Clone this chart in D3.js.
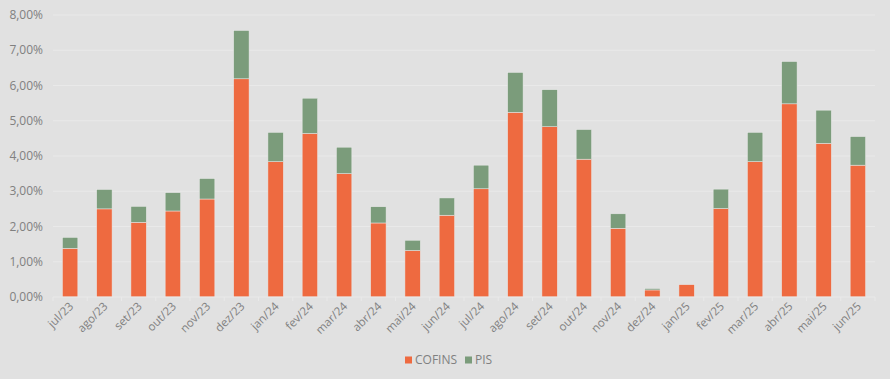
<!DOCTYPE html>
<html>
<head>
<meta charset="utf-8">
<script src="https://cdn.jsdelivr.net/npm/d3@7"></script>
<style>
  body { margin: 0; background: #e1e1e1; }
  svg { display: block; }
  text { font-family: "Open Sans", sans-serif; fill: #808080; }
</style>
</head>
<body>
<div id="chart"></div>
<script>
// months
var months = ["jul/23","ago/23","set/23","out/23","nov/23","dez/23","jan/24","fev/24","mar/24","abr/24","mai/24","jun/24",
              "jul/24","ago/24","set/24","out/24","nov/24","dez/24","jan/25","fev/25","mar/25","abr/25","mai/25","jun/25"];
// values in %
var cofins = [1.38, 2.50, 2.12, 2.44, 2.78, 6.19, 3.84, 4.64, 3.50, 2.10, 1.32, 2.32,
              3.07, 5.24, 4.83, 3.91, 1.95, 0.20, 0.35, 2.51, 3.84, 5.48, 4.36, 3.74];
var pis    = [0.31, 0.55, 0.45, 0.52, 0.58, 1.37, 0.83, 1.00, 0.75, 0.46, 0.29, 0.49,
              0.67, 1.13, 1.05, 0.84, 0.41, 0.04, 0.00, 0.55, 0.83, 1.20, 0.94, 0.81];
var yTicks = [0, 1, 2, 3, 4, 5, 6, 7, 8];
var seriesNames = ["COFINS", "PIS"];
var colors = ["#ee6a40", "#7b9c7b"];

var W = 890, H = 379;
var margin = {top: 15, right: 15, bottom: 82, left: 53};

var svg = d3.select("#chart").append("svg")
    .attr("width", W).attr("height", H);

svg.append("rect").attr("width", W).attr("height", H).attr("fill", "#e1e1e1");

var x = d3.scaleBand().domain(months)
    .range([margin.left, W - margin.right])
    .paddingInner(0.55).paddingOuter(0.275);

var y = d3.scaleLinear().domain([0, 8]).range([H - margin.bottom, margin.top]);

// gridlines
svg.append("g").selectAll("line")
  .data(yTicks.slice(1))
  .enter().append("line")
    .attr("x1", margin.left).attr("x2", W - margin.right)
    .attr("y1", function(d) { return y(d); })
    .attr("y2", function(d) { return y(d); })
    .attr("stroke", "#e9e9e9").attr("stroke-width", 1);

// y labels
svg.append("g").selectAll("text")
  .data(yTicks)
  .enter().append("text")
    .attr("x", margin.left - 10)
    .attr("y", function(d) { return y(d); })
    .attr("dy", "0.35em")
    .attr("text-anchor", "end")
    .attr("font-size", "12px")
    .text(function(d) { return d3.format(".2f")(d).replace(".", ",") + "%"; });

// stacked data
var rows = months.map(function(m, i) { return {month: m, COFINS: cofins[i], PIS: pis[i]}; });
var stack = d3.stack().keys(seriesNames)(rows);

svg.append("g").selectAll("g")
  .data(stack)
  .enter().append("g")
    .attr("fill", function(d, i) { return colors[i]; })
  .selectAll("rect")
  .data(function(d) { return d; })
  .enter().append("rect")
    .attr("x", function(d) { return x(d.data.month); })
    .attr("width", x.bandwidth())
    .attr("y", function(d) { return y(d[1]); })
    .attr("height", function(d) { return y(d[0]) - y(d[1]); })
    .attr("stroke", "#eaeaea").attr("stroke-width", 0.5);

// x axis line + ticks
var step = x.step();
var xa = svg.append("g");
xa.append("line")
    .attr("x1", margin.left).attr("x2", W - margin.right)
    .attr("y1", y(0)).attr("y2", y(0))
    .attr("stroke", "#e9e9e9");
xa.selectAll("line.tk")
  .data(d3.range(months.length + 1))
  .enter().append("line").attr("class", "tk")
    .attr("x1", function(i) { return margin.left + i * step; })
    .attr("x2", function(i) { return margin.left + i * step; })
    .attr("y1", y(0)).attr("y2", y(0) + 4)
    .attr("stroke", "#e9e9e9");

// x labels rotated
xa.selectAll("text")
  .data(months)
  .enter().append("text")
    .attr("text-anchor", "end")
    .attr("font-size", "11.5px")
    .attr("transform", function(d) {
      return "translate(" + (x(d) + x.bandwidth() / 2 + 4) + "," + (y(0) + 10) + ") rotate(-45)";
    })
    .text(function(d) { return d; });

// legend
var lg = svg.append("g").attr("transform", "translate(405,360)");
var items = [{n: "COFINS", c: colors[0], dx: 0}, {n: "PIS", c: colors[1], dx: 60}];
items.forEach(function(it) {
  lg.append("rect").attr("x", it.dx).attr("y", -3.5).attr("width", 7).attr("height", 7).attr("fill", it.c);
  lg.append("text").attr("x", it.dx + 10).attr("y", 0).attr("dy", "0.35em")
    .attr("font-size", "12px").text(it.n);
});
</script>
</body>
</html>
